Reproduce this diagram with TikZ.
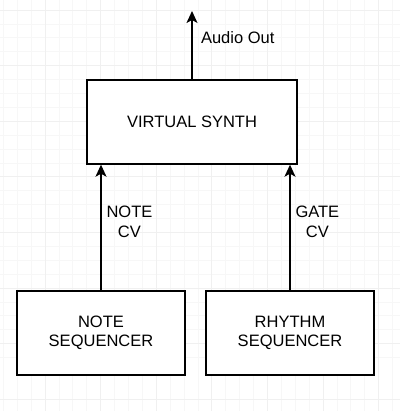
\documentclass[tikz,border=0pt]{standalone}
\usepackage{fontspec}
\setmainfont{Liberation Sans}
\usepackage{tikz}
\usetikzlibrary{arrows.meta, positioning}

\begin{document}
\begin{tikzpicture}[
    x=1pt, y=-1pt,
    block/.style={rectangle, draw, line width=1.4pt, minimum width=168pt, minimum height=84pt, align=center, font=\fontsize{16.5}{19.5}\selectfont},
    arrow/.style={-{Stealth[length=12pt, width=11pt, inset=3pt]}, line width=1.4pt},
    label/.style={align=center, font=\fontsize{16.5}{19.5}\selectfont},
    minorgrid/.style={draw=black!3, line width=0.7pt},
    majorgrid/.style={draw=black!6, line width=0.7pt}
]
    % Background and grid
    \fill[white] (0,0) rectangle (400,411);
    \useasboundingbox (0,0) rectangle (400,411);
    \foreach \i in {-3,...,25} {
        \draw[minorgrid] ({45+13.9*\i},0) -- ({45+13.9*\i},411);
        \draw[minorgrid] (0,{10+13.9*\i}) -- (400,{10+13.9*\i});
    }
    \foreach \i in {-1,...,7} {
        \draw[majorgrid] ({45+55.6*\i},0) -- ({45+55.6*\i},411);
        \draw[majorgrid] (0,{10+55.6*\i}) -- (400,{10+55.6*\i});
    }

    % Blocks
    \node[block, minimum width=210pt, fill=white] (synth) at (192,122) {VIRTUAL SYNTH};
    \node[block, fill=white] (noteseq) at (101,333) {NOTE\\SEQUENCER};
    \node[block, fill=white] (rhythmseq) at (290,333) {RHYTHM\\SEQUENCER};
    \coordinate (audio) at (192,11);

    % Arrows
    \draw[arrow] (synth.north) -- node[label, right=5pt, pos=0.61] {Audio Out} (audio);
    \draw[arrow] (noteseq) -- node[label, right=1.5pt, pos=0.547] {NOTE\\CV} (noteseq |- synth.south);
    \draw[arrow] (rhythmseq) -- node[label, right=1.5pt, pos=0.547] {GATE\\CV} (rhythmseq |- synth.south);
\end{tikzpicture}
\end{document}
